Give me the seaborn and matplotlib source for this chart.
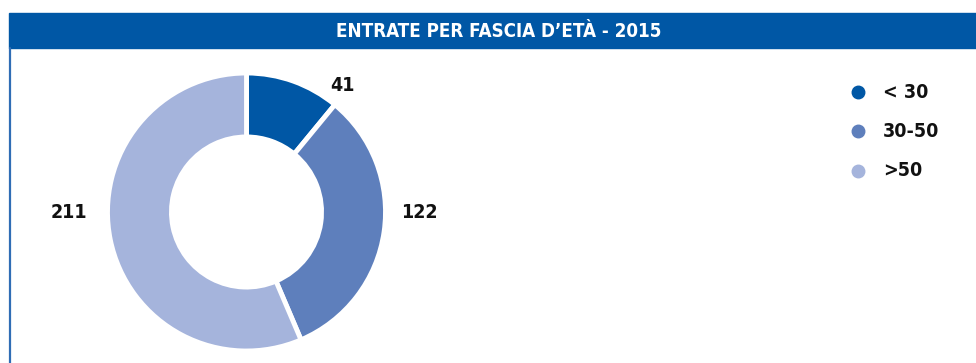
import matplotlib
matplotlib.use("Agg")
import matplotlib.pyplot as plt
from matplotlib.patches import Rectangle
from matplotlib.lines import Line2D
from matplotlib import font_manager
import seaborn as sns

# Entrate per fascia d'età - 2015
categories = ["< 30", "30-50", ">50"]
values = [41, 122, 211]
title = "ENTRATE PER FASCIA D\u2019ET\u00c0 - 2015"

sns.set_theme(style="white")

# prefer a narrow bold face when one is available
names = {f.name for f in font_manager.fontManager.ttflist}
narrow = [n for n in ["Liberation Sans Narrow", "DejaVu Sans Condensed"] if n in names]
plt.rcParams["font.family"] = narrow + ["DejaVu Sans"]
plt.rcParams["font.stretch"] = "condensed"

colors = ["#0057a5", "#5e7fbc", "#a5b4dc"]
W, H = 976, 363
fig = plt.figure(figsize=(W / 100, H / 100), dpi=100)

# header band and left frame line
fig.patches.append(Rectangle((9 / W, 1 - 48 / H), 1 - 9 / W, 35 / H,
                             transform=fig.transFigure, color="#0057a5", zorder=0))
fig.add_artist(Line2D([10 / W, 10 / W], [0, 1 - 48 / H], transform=fig.transFigure,
                      color="#2f6db5", lw=1.6))
fig.text(499 / W, 1 - 31.5 / H, title, ha="center", va="center", color="white",
         fontsize=13.5, fontweight="bold")

# donut
cx, cy, r = 246.5, 212, 139
ax = fig.add_axes([(cx - r) / W, (H - cy - r) / H, 2 * r / W, 2 * r / H])
wedges, _ = ax.pie(values, colors=colors, startangle=90, counterclock=False,
                   radius=1, wedgeprops=dict(width=0.46, edgecolor="white", linewidth=3.5))
ax.set_xlim(-1, 1)
ax.set_ylim(-1, 1)
ax.set_aspect("equal")
ax.axis("off")

label_pos = [(0.69, 0.91), (1.24, 0.0), (-1.28, 0.0)]
for v, (lx, ly) in zip(values, label_pos):
    ax.text(lx, ly, str(v), ha="center", va="center", fontsize=14,
            fontweight="bold", color="#111111", clip_on=False)

# legend
for i, (c, lab) in enumerate(zip(colors, categories)):
    y = 1 - (92 + 39.5 * i) / H
    fig.add_artist(Line2D([858 / W], [y], marker="o", markersize=9, color=c,
                          transform=fig.transFigure, linestyle="none"))
    fig.text(883 / W, y, lab, ha="left", va="center", fontsize=14,
             fontweight="bold", color="#111111")

fig.savefig("out.png", dpi=100, facecolor="white")
